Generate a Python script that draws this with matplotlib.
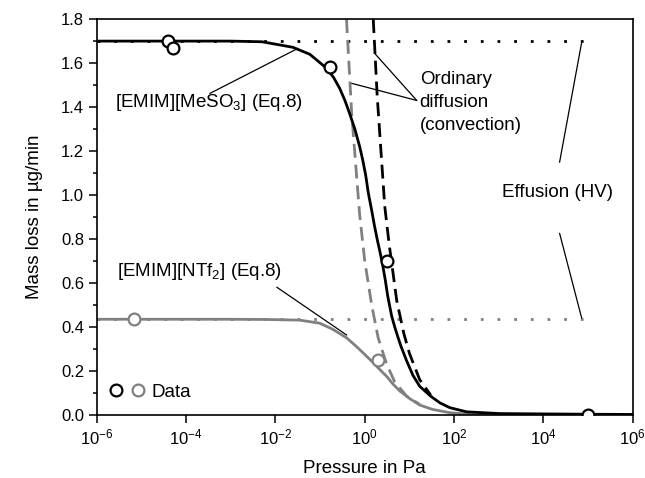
import matplotlib
matplotlib.use('Agg')
import matplotlib.pyplot as plt
from matplotlib import ticker
from matplotlib.legend_handler import HandlerTuple

plt.rcParams['font.family'] = ['Liberation Sans', 'DejaVu Sans']
plt.rcParams['mathtext.fontset'] = 'custom'
plt.rcParams['mathtext.rm'] = 'Liberation Sans'
plt.rcParams['mathtext.it'] = 'Liberation Sans:italic'
plt.rcParams['axes.unicode_minus'] = False

BLACK = '#000000'
GRAY = '#808080'

# measured data
mes_data_p = [3.9e-5, 5.0e-5, 0.17, 3.1, 1.0e5]
mes_data_y = [1.70, 1.67, 1.58, 0.70, 0.0]
ntf_data_p = [7.0e-6, 1.95]
ntf_data_y = [0.435, 0.25]

# Eq.8 curves
mes_p = [1e-6, 1e-3, 5e-3, 0.0245, 0.059, 0.141, 0.2, 0.275, 0.36, 0.46, 0.6, 0.77, 0.9,
         1.05, 1.2, 1.43, 1.65, 1.94, 2.2, 2.53, 2.9, 3.27, 4.0, 4.69, 5.5, 6.4, 8.7, 12,
         17, 30, 48, 80, 190, 1050, 1e5, 1e6]
mes_y = [1.70, 1.70, 1.697, 1.672, 1.64, 1.576, 1.535, 1.485, 1.43, 1.37, 1.30, 1.22, 1.16,
         1.09, 1.01, 0.93, 0.86, 0.79, 0.74, 0.68, 0.61, 0.54, 0.45, 0.40, 0.355, 0.315, 0.245, 0.18,
         0.13, 0.085, 0.055, 0.033, 0.014, 0.006, 0.003, 0.002]
ntf_p = [1e-6, 1e-3, 6.4e-3, 0.035, 0.098, 0.19, 0.275, 0.395, 0.66, 1.0, 1.5, 2.2,
         3.1, 4.3, 6.0, 10, 17, 33, 80, 190, 1050, 1e6]
ntf_y = [0.435, 0.435, 0.434, 0.431, 0.417, 0.39, 0.37, 0.35, 0.31, 0.275, 0.24, 0.205,
         0.175, 0.14, 0.11, 0.075, 0.045, 0.025, 0.01, 0.004, 0.002, 0.001]

# ordinary diffusion (convection)
mes_diff_p = [1.55, 1.9, 2.8, 3.5, 5.2, 7.5, 10, 17, 30]
mes_diff_y = [1.80, 1.45, 0.95, 0.78, 0.52, 0.37, 0.28, 0.16, 0.09]
ntf_diff_p = [0.39, 0.51, 0.77, 1.0, 1.43, 2.0, 3.1, 4.7, 8.7, 17]
ntf_diff_y = [1.80, 1.37, 0.91, 0.70, 0.50, 0.35, 0.23, 0.15, 0.085, 0.048]

# effusion (HV)
eff_p = [1e-6, 1e5]
mes_eff_y = [1.70, 1.70]
ntf_eff_y = [0.435, 0.435]

x_ticks = [1e-6, 1e-4, 1e-2, 1e0, 1e2, 1e4, 1e6]

fig = plt.figure(figsize=(6.45, 4.78), dpi=100)
ax = fig.add_axes([0.150, 0.132, 0.831, 0.828])

ax.plot(eff_p, mes_eff_y, color=BLACK, lw=2, linestyle=(0, (1, 5)))
ax.plot(eff_p, ntf_eff_y, color=GRAY, lw=2, linestyle=(0, (1, 5)))
ax.plot(mes_diff_p, mes_diff_y, color=BLACK, lw=2, linestyle=(0, (5, 2.5)))
ax.plot(ntf_diff_p, ntf_diff_y, color=GRAY, lw=2, linestyle=(0, (5, 2.5)))
ax.plot(ntf_p, ntf_y, color=GRAY, lw=2)
ax.plot(mes_p, mes_y, color=BLACK, lw=2)

h_mes, = ax.plot(mes_data_p, mes_data_y, 'o', ms=8.5, mfc='white', mec=BLACK, mew=1.6, zorder=5)
h_ntf, = ax.plot(ntf_data_p, ntf_data_y, 'o', ms=8.5, mfc='white', mec=GRAY, mew=1.6, zorder=5)

ax.set_xscale('log')
ax.set_xlim(1e-6, 1e6)
ax.set_ylim(0, 1.8)
ax.set_xticks(x_ticks)
ax.xaxis.set_minor_locator(ticker.NullLocator())
ax.yaxis.set_major_locator(ticker.MultipleLocator(0.2))
ax.yaxis.set_minor_locator(ticker.MultipleLocator(0.1))
ax.yaxis.set_major_formatter(ticker.FormatStrFormatter('%.1f'))
ax.tick_params(which='major', direction='out', length=5.5, width=1.1, labelsize=12)
ax.tick_params(which='minor', direction='out', length=3, width=1.1)
ax.tick_params(top=False, right=False)
for s in ax.spines.values():
    s.set_linewidth(1.2)

ax.set_xlabel('Pressure in Pa', fontsize=13.5, labelpad=9)
ax.set_ylabel('Mass loss in \u00b5g/min', fontsize=13.5, labelpad=13)

# labels and pointer lines
fs = 13.5
line_kw = dict(arrowstyle='-', color=BLACK, lw=0.9, shrinkA=0, shrinkB=0)
ax.text(2.5e-6, 1.42, r'[EMIM][MeSO$_3$] (Eq.8)', fontsize=fs, va='center')
ax.annotate('', xy=(0.032, 1.667), xytext=(3.4e-4, 1.462), arrowprops=line_kw)

ax.text(2.8e-6, 0.65, r'[EMIM][NTf$_2$] (Eq.8)', fontsize=fs, va='center')
ax.annotate('', xy=(0.395, 0.363), xytext=(0.0107, 0.581), arrowprops=line_kw)

ax.text(17, 1.42, 'Ordinary\ndiffusion\n(convection)', fontsize=fs, va='center',
        linespacing=1.45)
ax.annotate('', xy=(1.67, 1.644), xytext=(14.6, 1.43), arrowprops=line_kw)
ax.annotate('', xy=(0.51, 1.508), xytext=(14.6, 1.43), arrowprops=line_kw)

ax.text(1166, 1.012, 'Effusion (HV)', fontsize=fs, va='center')
ax.annotate('', xy=(7.2e4, 1.695), xytext=(2.3e4, 1.149), arrowprops=line_kw)
ax.annotate('', xy=(7.2e4, 0.44), xytext=(2.3e4, 0.826), arrowprops=line_kw)

ax.legend([(h_mes, h_ntf)], ['Data'], handler_map={tuple: HandlerTuple(ndivide=None, pad=0.5)},
          loc='center left', bbox_to_anchor=(0.0, 0.058), frameon=False, fontsize=fs,
          handlelength=1.8, handletextpad=0.4, borderpad=0.2)

fig.savefig('out.png', dpi=100)
